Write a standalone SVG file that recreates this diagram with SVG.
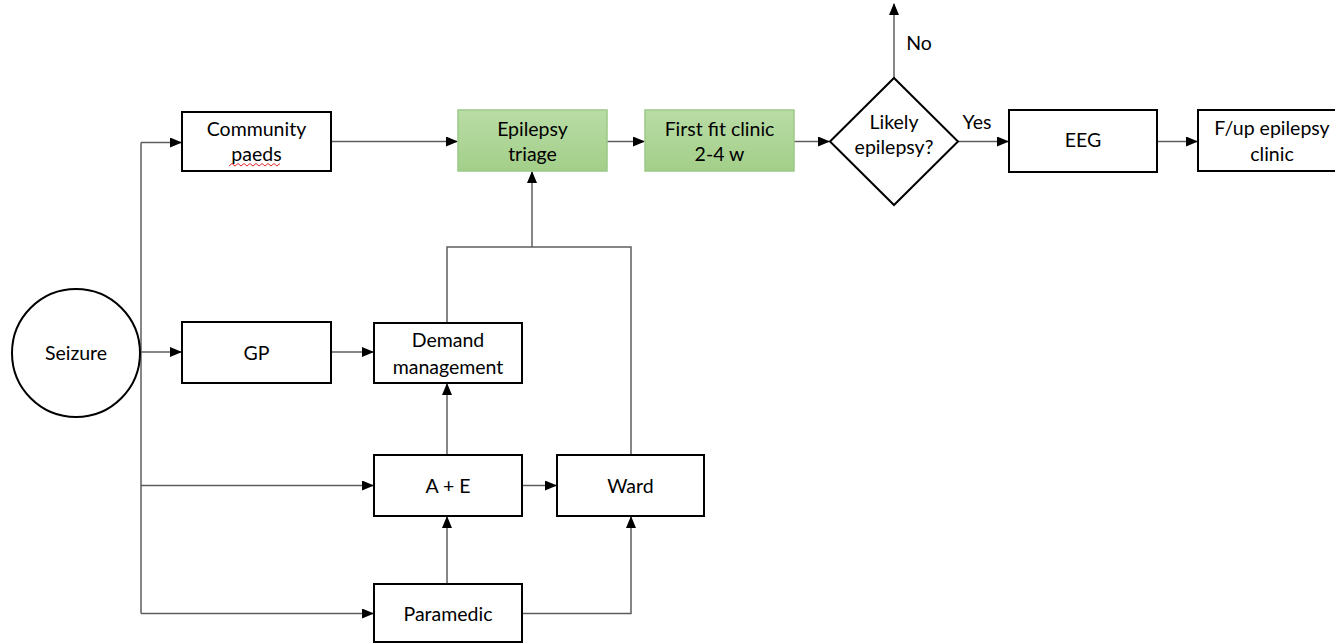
<svg xmlns="http://www.w3.org/2000/svg" width="1335" height="644" viewBox="0 0 1335 644">
<style>
.box{fill:#ffffff;stroke:#000000;stroke-width:2}
.green{fill:url(#g);stroke:#9cc987;stroke-width:1.5}
.lbl{font-family:Lato,"Open Sans","Liberation Sans",sans-serif;font-size:19.5px;fill:#000000;text-anchor:middle;dominant-baseline:central}
.ln{fill:none;stroke:#5e5e5e;stroke-width:1.5}
.arr{fill:none;stroke:#5e5e5e;stroke-width:1.5;marker-end:url(#ah)}
</style>
<defs>
<linearGradient id="g" x1="0" y1="0" x2="0" y2="1">
<stop offset="0" stop-color="#b9dca6"/>
<stop offset="1" stop-color="#a3cf89"/>
</linearGradient>
<marker id="ah" markerUnits="userSpaceOnUse" markerWidth="12" markerHeight="10" refX="11" refY="5" orient="auto">
<path d="M0,0 L12,5 L0,10 Z" fill="#000000"/>
</marker>
</defs>
<rect width="1335" height="644" fill="#ffffff"/>
<g id="connectors">
<path class="ln" d="M141,142.5 L141,613.5"/>
<path class="arr" d="M141,142.5 L181,142.5"/>
<path class="arr" d="M141,352 L181,352"/>
<path class="arr" d="M141,485.5 L373,485.5"/>
<path class="arr" d="M141,613.5 L373,613.5"/>
<path class="arr" d="M331,141.5 L457,141.5"/>
<path class="arr" d="M607,141.5 L644,141.5"/>
<path class="arr" d="M794,141.5 L829,141.5"/>
<path class="arr" d="M958,141.5 L1008,141.5"/>
<path class="arr" d="M1157,141.5 L1197,141.5"/>
<path class="arr" d="M894,78 L894,4"/>
<path class="arr" d="M331,352 L373,352"/>
<path class="ln" d="M447,323 L447,247 L631,247 L631,455"/>
<path class="arr" d="M532,247 L532,172"/>
<path class="arr" d="M447,455 L447,384"/>
<path class="arr" d="M447,584 L447,517"/>
<path class="arr" d="M522,485.5 L556,485.5"/>
<path class="arr" d="M522,613.5 L631,613.5 L631,517"/>
</g>
<g id="seizure">
<circle cx="76" cy="353" r="64" fill="#ffffff" stroke="#000000" stroke-width="2"/>
<text class="lbl" x="76" y="352">Seizure</text>
</g>
<g id="community-paeds">
<rect class="box" x="182" y="112" width="149" height="59"/>
<text class="lbl" x="256.5" y="128">Community</text>
<text class="lbl" x="256.5" y="153">paeds</text>
<path d="M229,166 l3,-2.5 l3,2.5 l3,-2.5 l3,2.5 l3,-2.5 l3,2.5 l3,-2.5 l3,2.5 l3,-2.5 l3,2.5 l3,-2.5 l3,2.5 l3,-2.5 l3,2.5 l3,-2.5 l3,2.5 l3,-2.5" fill="none" stroke="#e0262a" stroke-width="1"/>
</g>
<g id="gp">
<rect class="box" x="182" y="322" width="149" height="61"/>
<text class="lbl" x="256.5" y="352">GP</text>
</g>
<g id="demand-management">
<rect class="box" x="374" y="323" width="148" height="60"/>
<text class="lbl" x="448" y="339">Demand</text>
<text class="lbl" x="448" y="366">management</text>
</g>
<g id="ae">
<rect class="box" x="374" y="455" width="148" height="61"/>
<text class="lbl" x="448" y="485">A + E</text>
</g>
<g id="ward">
<rect class="box" x="557" y="455" width="147" height="61"/>
<text class="lbl" x="630.5" y="485">Ward</text>
</g>
<g id="paramedic">
<rect class="box" x="374" y="584" width="148" height="58"/>
<text class="lbl" x="448" y="613">Paramedic</text>
</g>
<g id="epilepsy-triage">
<rect class="green" x="458" y="110" width="149" height="61"/>
<text class="lbl" x="532.5" y="128">Epilepsy</text>
<text class="lbl" x="532.5" y="153">triage</text>
</g>
<g id="first-fit-clinic">
<rect class="green" x="645" y="110" width="149" height="61"/>
<text class="lbl" x="719.5" y="128">First fit clinic</text>
<text class="lbl" x="719.5" y="153">2-4 w</text>
</g>
<g id="likely-epilepsy">
<polygon points="830,141.5 894,78 958,141.5 894,205" fill="#ffffff" stroke="#000000" stroke-width="2"/>
<text class="lbl" x="894" y="121">Likely</text>
<text class="lbl" x="894" y="146">epilepsy?</text>
</g>
<g id="eeg">
<rect class="box" x="1009" y="110" width="148" height="62"/>
<text class="lbl" x="1083" y="139">EEG</text>
</g>
<g id="fup-clinic">
<rect class="box" x="1198" y="110" width="148" height="61"/>
<text class="lbl" x="1272" y="127.5">F/up epilepsy</text>
<text class="lbl" x="1272" y="153">clinic</text>
</g>
<g id="edge-labels">
<text class="lbl" x="919" y="42">No</text>
<text class="lbl" x="977" y="121">Yes</text>
</g>
</svg>
